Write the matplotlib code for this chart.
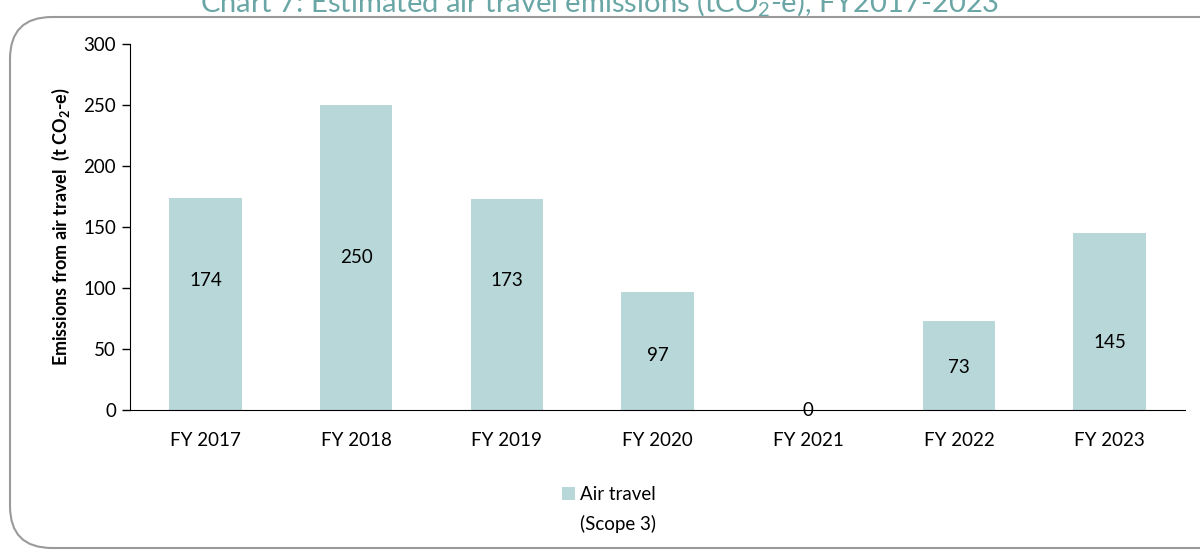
import matplotlib.pyplot as plt
from matplotlib.patches import FancyBboxPatch, Rectangle

# data
years = ['FY 2017', 'FY 2018', 'FY 2019', 'FY 2020', 'FY 2021', 'FY 2022', 'FY 2023']
emissions = [174, 250, 173, 97, 0, 73, 145]
# where the data labels sit (in data units), as placed in the original
label_y = [106, 125, 106, 45, 0, 35, 55]

bar_color = '#b8d7d9'
title_color = '#6aa6a6'

plt.rcParams['font.family'] = ['Lato', 'DejaVu Sans']
plt.rcParams['mathtext.default'] = 'regular'

fig = plt.figure(figsize=(12, 5.54), dpi=100)

# rounded frame around the chart
frame = FancyBboxPatch((10 / 1200, 6 / 554), 1.2, 531 / 554,
                       boxstyle='round,pad=0,rounding_size=0.035',
                       transform=fig.transFigure, fill=False,
                       edgecolor='#9a9a9a', linewidth=1.5, mutation_aspect=1200 / 554)
fig.patches.append(frame)

fig.text(0.5, 1 - 11 / 554, 'Chart 7: Estimated air travel emissions (tCO$_2$-e), FY2017-2023',
         ha='center', va='baseline', fontsize=21, color=title_color, fontweight='normal')

ax = fig.add_axes([130 / 1200, 1 - 410 / 554, 1055 / 1200, 366 / 554])
x = range(len(years))
ax.bar(x, emissions, width=0.48, color=bar_color)

for i, (v, ly) in enumerate(zip(emissions, label_y)):
    ax.text(i, ly, str(v), ha='center', va='center', fontsize=13.5, color='black')

ax.set_xlim(-0.5, len(years) - 0.5)
ax.set_ylim(0, 300)
ax.set_yticks(range(0, 301, 50))
ax.set_xticks(list(x))
ax.set_xticklabels(years)
ax.tick_params(axis='y', direction='out', length=6, width=1, labelsize=13.5, pad=4)
ax.tick_params(axis='x', length=0, labelsize=13.5, pad=16)
for s in ['top', 'right']:
    ax.spines[s].set_visible(False)
ax.spines['left'].set_color('black')
ax.spines['bottom'].set_color('black')
ax.set_ylabel('Emissions from air travel  (t CO$_2$-e)', fontsize=13,
              fontweight='bold', labelpad=8)

# legend, drawn by hand so the swatch lines up with the first line
fig.patches.append(Rectangle((562 / 1200, 1 - 500 / 554), 13 / 1200, 13 / 554,
                             transform=fig.transFigure, facecolor=bar_color, edgecolor='none'))
fig.text(580 / 1200, 1 - 494 / 554, 'Air travel', ha='left', va='center', fontsize=13.5)
fig.text(580 / 1200, 1 - 524 / 554, '(Scope 3)', ha='left', va='center', fontsize=13.5)

fig.savefig('out.png', dpi=100)
